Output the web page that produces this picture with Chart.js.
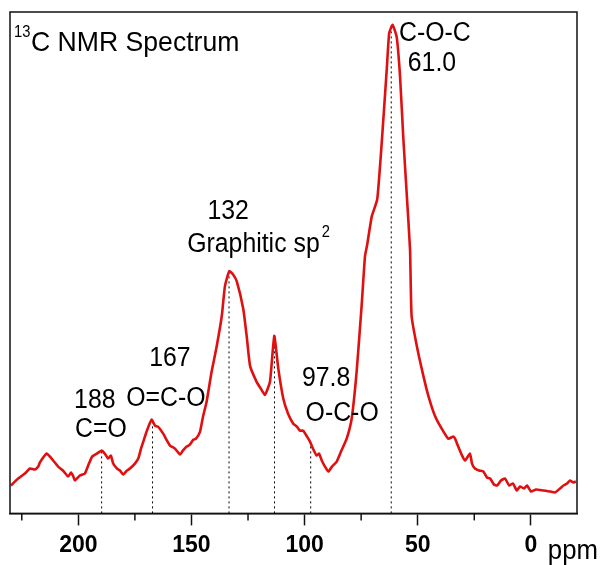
<!DOCTYPE html>
<html>
<head>
<meta charset="utf-8">
<script src="https://cdn.jsdelivr.net/npm/chart.js@4.4.1/dist/chart.umd.min.js"></script>
<style>
  html, body { margin: 0; padding: 0; background: #ffffff; }
  #wrap { width: 601px; height: 565px; }
</style>
</head>
<body>
<div id="wrap"><canvas id="c" width="601" height="565"></canvas></div>
<script>
// ---- data (ppm, arbitrary intensity) ----
const ppm = [229.8,226.6,223.6,221.4,219.2,217.7,217.0,214.0,211.8,208.9,206.8,204.5,203.2,202.2,201.5,199.3,197.1,195.3,193.9,191.8,189.7,188.3,186.8,185.6,184.6,182.9,181.6,180.2,178.5,177.2,175.0,173.5,172.3,171.3,169.7,167.6,166.1,164.8,162.5,160.8,159.5,157.3,155.0,153.8,152.1,150.7,149.2,148.0,146.2,144.9,143.3,141.1,138.9,136.6,135.2,133.3,131.7,130.0,127.1,125.6,124.1,121.2,119.3,117.5,115.3,113.4,111.6,109.4,107.3,105.0,103.4,102.0,100.6,98.9,97.6,96.3,94.7,93.6,92.4,91.0,89.5,87.9,85.8,83.9,81.4,79.2,77.0,74.8,73.3,72.3,70.3,67.9,65.9,63.7,62.6,61.1,59.3,57.8,56.4,54.9,53.4,52.7,50.4,47.5,45.3,42.4,39.4,36.5,34.3,33.5,32.1,30.4,29.1,26.9,26.0,24.7,22.9,21.0,19.4,18.0,16.3,14.9,13.2,11.4,9.6,7.9,6.2,4.8,3.0,1.7,-0.1,-2.3,-5.5,-8.5,-10.7,-12.9,-14.4,-16.0,-17.3,-18.7,-19.9];
const intensity = [28,35,40,45,44,47,51,60,55,47,43,37,41,37,33,38,40,50,57,60,63,60,55,58,50,45,43,39,43,45,50,55,65,72,83,94,88,87,80,73,68,65,59,63,67,69,74,75,82,97,112,142,167,198,228,243,240,233,205,178,148,132,125,119,132,178,145,115,100,90,87,83,83,77,72,65,58,60,53,47,42,47,52,62,75,95,142,208,258,270,298,315,372,445,482,490,478,438,378,322,265,198,168,138,118,98,85,75,77,75,67,58,53,60,50,45,43,42,36,35,29,28,33,35,28,30,23,27,25,28,22,24,23,22,21,25,28,30,33,31,32];

// peak marker positions (dotted drop lines)
const markerPpm = [189.7, 167.2, 133.4, 113.3, 97.3, 61.7];

// axis ticks
const majorTicks = [200, 150, 100, 50, 0];
const minorTicks = [225, 175, 125, 75, 25];
const xRange = [-20.4, 230.2];
const yRange = [0, 503];

// annotation texts (anchored in data units)
const labelTexts = ['C-O-C', '61.0', '132', 'Graphitic sp', '167', 'O=C-O', '188', 'C=O', '97.8', 'O-C-O'];
const labelPpm   = [42.4, 43.7, 133.8, 151.9, 159.5, 161.3, 192.7, 190.0, 90.5, 83.4];
const labelInt   = [481, 451, 303, 270, 155, 115, 113, 84, 135, 100];
const labelAlign = ['center','center','center','left','center','center','center','center','center','center'];

function valueAt(p) {
  for (let i = 0; i < ppm.length - 1; i++) {
    const a = ppm[i], b = ppm[i + 1];
    if ((p <= a && p >= b)) {
      const t = (a - p) / (a - b);
      return intensity[i] + t * (intensity[i + 1] - intensity[i]);
    }
  }
  return 0;
}

const spectrum = ppm.map((p, i) => ({ x: p, y: intensity[i] }));
const markerSets = markerPpm.map(p => ({
  data: [{ x: p, y: yRange[0] }, { x: p, y: valueAt(p) }],
  borderColor: '#000',
  borderWidth: 1,
  borderDash: [2, 3],
  pointRadius: 0,
  fill: false,
  order: 2
}));

const FONT = '"Liberation Sans", Arial, sans-serif';

function drawText(ctx, text, x, y, size, align, weight, sx) {
  ctx.save();
  ctx.font = (weight || 'normal') + ' ' + size + 'px ' + FONT;
  ctx.textBaseline = 'middle';
  ctx.fillStyle = '#000';
  ctx.translate(x, y);
  ctx.scale(sx || 1, 1);
  ctx.textAlign = align || 'center';
  ctx.fillText(text, 0, 0);
  const w = ctx.measureText(text).width * (sx || 1);
  ctx.restore();
  return w;
}

const decor = {
  id: 'decor',
  afterDraw(chart) {
    const { ctx, chartArea: ca, scales } = chart;
    const xs = scales.x, ys = scales.y;
    // frame
    ctx.save();
    ctx.strokeStyle = '#111';
    ctx.lineWidth = 1.5;
    ctx.strokeRect(ca.left, ca.top, ca.right - ca.left, ca.bottom - ca.top);
    // minor ticks
    ctx.lineWidth = 1.5;
    minorTicks.forEach(v => {
      const px = xs.getPixelForValue(v);
      ctx.beginPath();
      ctx.moveTo(px, ca.bottom);
      ctx.lineTo(px, ca.bottom + 7);
      ctx.stroke();
    });
    ctx.restore();

    const SX = 0.92;
    // title
    drawText(ctx, '13', ca.left + 4, ca.top + 21, 16, 'left', 'normal', SX);
    drawText(ctx, 'C NMR Spectrum', ca.left + 21, ca.top + 31, 28, 'left', 'normal', 0.95);

    // annotations
    labelTexts.forEach((t, i) => {
      const px = xs.getPixelForValue(labelPpm[i]);
      const py = ys.getPixelForValue(labelInt[i]);
      const w = drawText(ctx, t, px, py, 27, labelAlign[i], 'normal', SX);
      if (t === 'Graphitic sp') {
        drawText(ctx, '2', px + w + 2, py - 12, 16, 'left', 'normal', SX);
      }
    });

    // axis unit
    drawText(ctx, 'ppm', xs.getPixelForValue(0) + 17, ca.bottom + 38, 28, 'left', 'normal', SX);
  }
};

new Chart(document.getElementById('c'), {
  type: 'line',
  data: {
    datasets: [{
      data: spectrum,
      borderColor: '#e01010',
      borderWidth: 2.6,
      pointRadius: 0,
      tension: 0.15,
      fill: false,
      order: 1
    }].concat(markerSets)
  },
  options: {
    responsive: false,
    animation: false,
    devicePixelRatio: 1,
    layout: { padding: { left: 10, right: 24, top: 12, bottom: 0 } },
    plugins: { legend: { display: false }, tooltip: { enabled: false } },
    scales: {
      x: {
        type: 'linear',
        reverse: true,
        min: xRange[0],
        max: xRange[1],
        afterBuildTicks: axis => { axis.ticks = majorTicks.concat(minorTicks).sort((a, b) => b - a).map(v => ({ value: v })); },
        border: { display: true, color: '#111', width: 1.5 },
        grid: {
          drawOnChartArea: false,
          tickLength: 12,
          tickWidth: 1.5,
          tickColor: c => (c.tick && c.tick.value % 50 === 0) ? '#111' : 'rgba(0,0,0,0)'
        },
        ticks: {
          autoSkip: false,
          maxRotation: 0,
          padding: 6,
          color: '#000',
          font: { family: FONT, size: 23, weight: 'bold' },
          callback: v => (v % 50 === 0 ? String(v) : '')
        }
      },
      y: {
        display: false,
        min: yRange[0],
        max: yRange[1]
      }
    }
  },
  plugins: [decor]
});
</script>
</body>
</html>
